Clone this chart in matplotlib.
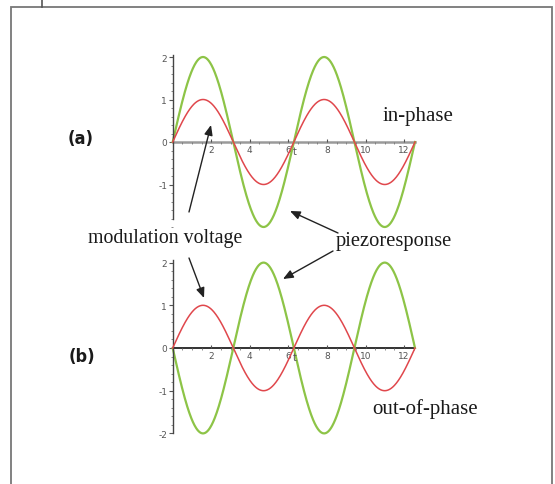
import numpy as np
import matplotlib
matplotlib.use("Agg")
import matplotlib.pyplot as plt
from matplotlib.patches import Rectangle
from matplotlib.lines import Line2D
from matplotlib.text import Annotation

W, H = 555, 485

# chart content
panel_labels = ["(a)", "(b)"]
phase_labels = ["in-phase", "out-of-phase"]
voltage_amp = 1.0
piezo_amp = 2.0
piezo_sign = [1, -1]          # in-phase / out-of-phase
t_end = 4 * np.pi
x_ticks = [2, 4, 6, 8, 10, 12]
y_ticks_top = [-1, 0, 1, 2]
y_ticks_bot = [-2, -1, 0, 1, 2]
y_spine_top = (-1.8, 2.05)
y_spine_bot = (-2.0, 2.05)

RED = "#e0474c"
GREEN = "#8dc447"
SERIF = ["Liberation Serif", "DejaVu Serif"]
COND = ["Liberation Sans Narrow", "DejaVu Sans"]


def px(x, y):
    # top-left pixel -> figure pixels (bottom-left origin)
    return (x, H - y)


def fr(x, y):
    # top-left pixel -> figure fraction
    return (x / W, 1 - y / H)


fig = plt.figure(figsize=(W / 100, H / 100), dpi=100)

# frame around the figure (bottom edge runs off the picture)
fig.add_artist(Rectangle((10.5 / W, -0.05), 541 / W, (H - 8) / H + 0.05,
                         transform=fig.transFigure, fill=False,
                         edgecolor="#777777", linewidth=1.3))
fig.add_artist(Line2D([42 / W, 42 / W], [(H - 8) / H, 1], transform=fig.transFigure,
                      color="#555555", linewidth=1.2))

t = np.linspace(0, t_end, 600)
boxes = [
    # left, zero-line y (px), px per unit
    (172.7, 143.0, 42.5),
    (172.7, 349.0, 42.7),
]
ylim = (-2.05, 2.1)

for i, (left, y0, unit) in enumerate(boxes):
    top = y0 - ylim[1] * unit
    bottom = y0 - ylim[0] * unit
    ax = fig.add_axes([left / W, 1 - bottom / H, (415.0 - left) / W, (bottom - top) / H])
    ax.set_xlim(0, t_end)
    ax.set_ylim(*ylim)
    ax.patch.set_alpha(0)

    ax.plot(t, voltage_amp * np.sin(t), color=RED, lw=1.1, clip_on=False, zorder=3)
    ax.plot(t, piezo_sign[i] * piezo_amp * np.sin(t), color=GREEN, lw=1.6,
            clip_on=False, zorder=2)

    for s in ["top", "right"]:
        ax.spines[s].set_visible(False)
    ax.spines["bottom"].set_position(("data", 0))
    ax.spines["left"].set_position(("data", 0))
    if i == 0:
        ax.spines["bottom"].set_color("#9a9a9a")
        ax.spines["bottom"].set_linewidth(1.8)
        ax.spines["left"].set_bounds(*y_spine_top)
        ax.set_yticks(y_ticks_top)
    else:
        ax.spines["bottom"].set_color("#222222")
        ax.spines["bottom"].set_linewidth(1.3)
        ax.spines["left"].set_bounds(*y_spine_bot)
        ax.set_yticks(y_ticks_bot)
    ax.spines["left"].set_color("#444444")
    ax.spines["left"].set_linewidth(1.0)
    ax.spines["bottom"].set_zorder(1)

    ax.set_xticks(x_ticks)
    ax.set_xticks(np.arange(0.5, 12.6, 0.5), minor=True)
    ax.set_yticks(np.arange(ylim[0] + 0.05, 2.01, 0.2), minor=True)
    ax.tick_params(axis="both", which="major", labelsize=6.5, labelcolor="#555555",
                   color="#555555", length=3, width=0.8, pad=1)
    ax.tick_params(axis="x", which="major", direction="in", length=2, pad=2)
    ax.tick_params(axis="both", which="minor", length=1.5, width=0.6, color="#777777")
    ax.set_yticklabels([str(v) for v in ax.get_yticks()])
    ax.text(6.35, -0.1, "t", fontsize=7, color="#555555", ha="center", va="top")

# panel texts
fig.text(*fr(81, 139), panel_labels[0], family=COND, fontstretch="condensed",
         fontsize=13, fontweight="bold", ha="center", va="center", color="#1a1a1a")
fig.text(*fr(82, 357), panel_labels[1], family=COND, fontstretch="condensed",
         fontsize=13, fontweight="bold", ha="center", va="center", color="#1a1a1a")
fig.text(*fr(383, 117), phase_labels[0], family=SERIF, fontsize=15,
         ha="left", va="center", color="#1a1a1a")
fig.text(*fr(372, 409), phase_labels[1], family=SERIF, fontsize=15,
         ha="left", va="center", color="#1a1a1a")

# annotations with arrows
arrow = dict(arrowstyle="-|>,head_length=0.6,head_width=0.25", color="#222222", lw=1.0,
             shrinkA=0, shrinkB=0)
fig.text(*fr(88, 238), "modulation voltage", family=SERIF, fontsize=14.3,
         ha="left", va="center", color="#1a1a1a")
fig.text(*fr(336, 242), "piezoresponse", family=SERIF, fontsize=14.8,
         ha="left", va="center", color="#1a1a1a")
for tail, head in [((189, 213), (211, 126)), ((189, 259), (204, 299)),
                   ((338, 234), (290, 212)), ((333, 252), (283, 280))]:
    fig.add_artist(Annotation("", xy=px(*head), xytext=px(*tail),
                              xycoords="figure pixels", textcoords="figure pixels",
                              arrowprops=arrow))

fig.savefig("out.png", dpi=100)
